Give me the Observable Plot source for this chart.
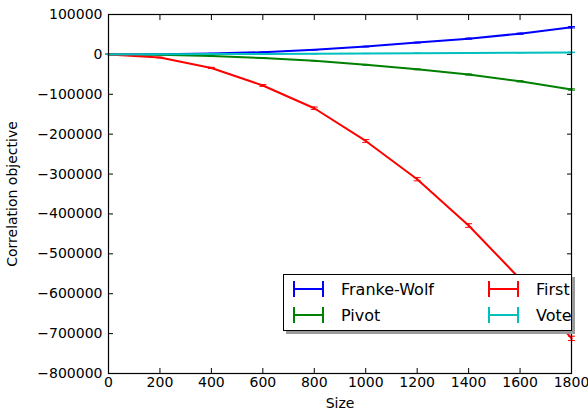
<!DOCTYPE html>
<html>
<head>
<meta charset="utf-8">
<script src="https://cdn.jsdelivr.net/npm/d3@7"></script>
<script src="https://cdn.jsdelivr.net/npm/@observablehq/plot@0.6"></script>
<style>
  body { margin: 0; background: #fff; font-family: "DejaVu Sans", sans-serif; }
  #wrap { position: relative; width: 588px; height: 411px; }
  #wrap svg text { font-size: 14px; font-family: "DejaVu Sans"; fill: #000; }
  #legend {
    position: absolute; left: 283px; top: 274px; width: 287px; height: 55px;
    border: 1px solid #000; background: #fff; box-shadow: 3px 3px 0 #9a9a9a;
    font-family: "DejaVu Sans", sans-serif; font-size: 16px; color: #000;
  }
  .item { position: absolute; display: flex; align-items: center; height: 20px; white-space: nowrap; }
  .item svg { display: block; }
  .item span { margin-left: 17px; }
</style>
</head>
<body>
<div id="wrap"></div>
<script>
// ---- data ----
const sizes = [0, 200, 400, 600, 800, 1000, 1200, 1400, 1600, 1800];
const seriesNames = ["Franke-Wolf", "Pivot", "First", "Vote"];
const seriesColors = ["#0000ff", "#008000", "#ff0000", "#00bfbf"];
const frankeWolf = [0, 600, 2200, 5500, 11500, 19500, 29500, 39500, 52000, 68000];
const pivot = [0, -1200, -4000, -9000, -16000, -26000, -37500, -50500, -67500, -88000];
const first = [0, -8000, -34000, -78000, -135000, -217000, -313000, -429000, -563000, -712000];
const vote = [0, 300, 700, 1200, 1700, 2300, 2900, 3500, 4200, 5000];
const frankeWolfErr = [0, 200, 300, 500, 700, 900, 1100, 1300, 1500, 1700];
const pivotErr = [0, 200, 300, 500, 700, 900, 1100, 1300, 1500, 1700];
const firstErr = [0, 800, 1500, 2200, 3000, 3500, 4000, 4500, 5000, 5500];
const voteErr = [0, 100, 100, 200, 200, 300, 300, 400, 400, 500];
const xTicks = [0, 200, 400, 600, 800, 1000, 1200, 1400, 1600, 1800];
const yTicks = [100000, 0, -100000, -200000, -300000, -400000, -500000, -600000, -700000, -800000];

const allValues = [frankeWolf, pivot, first, vote];
const allErrs = [frankeWolfErr, pivotErr, firstErr, voteErr];
const rows = [];
seriesNames.forEach((name, i) => {
  sizes.forEach((s, j) => {
    rows.push({series: name, size: s, value: allValues[i][j], err: allErrs[i][j]});
  });
});

// horizontal cap symbol for error bars
const capSymbol = {draw(ctx) { ctx.moveTo(-3.5, 0); ctx.lineTo(3.5, 0); }};

const fmt = d3.format("d");
const seriesMarks = [];
seriesNames.forEach((name, i) => {
  const data = rows.filter(r => r.series === name);
  const c = seriesColors[i];
  seriesMarks.push(
    Plot.line(data, {x: "size", y: "value", stroke: c, strokeWidth: 2}),
    Plot.ruleX(data, {x: "size", y1: d => d.value - d.err, y2: d => d.value + d.err, stroke: c, strokeWidth: 1.5}),
    Plot.dot(data, {x: "size", y: d => d.value - d.err, symbol: capSymbol, stroke: c, strokeWidth: 1, r: 3}),
    Plot.dot(data, {x: "size", y: d => d.value + d.err, symbol: capSymbol, stroke: c, strokeWidth: 1, r: 3})
  );
});

const chart = Plot.plot({
  width: 588,
  height: 411,
  marginLeft: 108,
  marginRight: 17,
  marginTop: 14,
  marginBottom: 38,
  style: {fontFamily: "DejaVu Sans", fontSize: "14px", color: "#000", background: "#fff"},
  x: {type: "linear", domain: [0, 1800]},
  y: {type: "linear", domain: [-800000, 100000]},
  marks: [
    Plot.axisX({ticks: xTicks, tickSize: -5, tickPadding: 9, tickFormat: fmt, label: "Size", labelAnchor: "center", labelArrow: "none", labelOffset: 34}),
    Plot.axisX({anchor: "top", ticks: xTicks, tickSize: -5, tickFormat: () => "", label: null}),
    Plot.axisY({ticks: yTicks, tickSize: -5, tickPadding: 11, tickFormat: fmt, label: "Correlation objective", labelAnchor: "center", labelArrow: "none", labelOffset: 101}),
    Plot.axisY({anchor: "right", ticks: yTicks, tickSize: -5, tickFormat: () => "", label: null}),
    ...seriesMarks,
    Plot.frame({stroke: "#000", strokeWidth: 1.2})
  ]
});
document.getElementById("wrap").appendChild(chart);

// legend
const legend = document.createElement("div");
legend.id = "legend";
const positions = [[9, 4], [9, 30], [204, 4], [204, 30]];
seriesNames.forEach((name, i) => {
  const item = document.createElement("div");
  item.className = "item";
  item.style.left = positions[i][0] + "px";
  item.style.top = positions[i][1] + "px";
  const c = seriesColors[i];
  item.innerHTML = `<svg width="31" height="20"><line x1="1" y1="10" x2="30" y2="10" stroke="${c}" stroke-width="2"/><line x1="1" y1="2" x2="1" y2="18" stroke="${c}" stroke-width="2"/><line x1="30" y1="2" x2="30" y2="18" stroke="${c}" stroke-width="2"/></svg><span>${name}</span>`;
  legend.appendChild(item);
});
document.getElementById("wrap").appendChild(legend);
</script>
</body>
</html>
